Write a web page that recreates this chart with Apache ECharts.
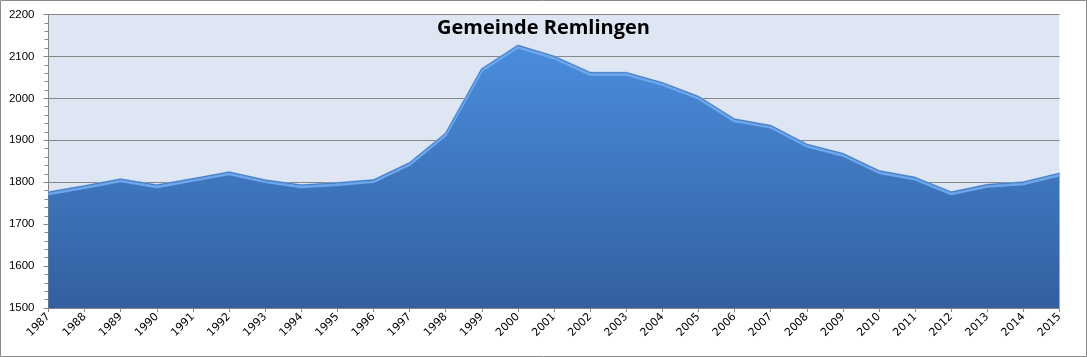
<!DOCTYPE html>
<html>
<head>
<meta charset="utf-8">
<script src="https://cdn.jsdelivr.net/npm/echarts@6/dist/echarts.min.js"></script>
<style>
html,body{margin:0;padding:0;background:#fff;}
#c{width:1087px;height:357px;}
</style>
</head>
<body>
<div id="c"></div>
<script>
const title = 'Gemeinde Remlingen';
const years = ['1987','1988','1989','1990','1991','1992','1993','1994','1995','1996','1997','1998','1999','2000','2001','2002','2003','2004','2005','2006','2007','2008','2009','2010','2011','2012','2013','2014','2015'];
const population = [1776,1791,1807,1793,1808,1824,1805,1793,1798,1805,1846,1916,2070,2126,2100,2061,2061,2037,2004,1950,1935,1890,1868,1827,1811,1776,1794,1800,1821];
const yMin = 1500, yMax = 2200, yStep = 100;

const chart = echarts.init(document.getElementById('c'), null, {renderer:'canvas'});
chart.setOption({
  animation:false,
  backgroundColor:'#ffffff',
  title:{
    text:title, left:'center', top:13,
    textStyle:{fontFamily:'Open Sans', fontWeight:'bold', fontSize:20, color:'#000'}
  },
  graphic:[{
    type:'rect', shape:{x:0.5,y:0.5,width:1086,height:356},
    style:{fill:'none', stroke:'#8a8a8a', lineWidth:1}, silent:true, z:100
  }],
  grid:{left:48.5, right:27.5, top:14.5, bottom:49, show:true, backgroundColor:'#dde6f2', borderWidth:0},
  xAxis:{
    type:'category', data:years, boundaryGap:false,
    axisLine:{lineStyle:{color:'#868686', width:1}},
    axisTick:{show:true, length:4, lineStyle:{color:'#868686'}},
    axisLabel:{rotate:45, margin:7, fontSize:11, color:'#000', fontFamily:'DejaVu Sans', interval:0}
  },
  yAxis:{
    type:'value', min:yMin, max:yMax, interval:yStep,
    axisLine:{show:true, lineStyle:{color:'#868686'}},
    axisTick:{show:true, length:5, lineStyle:{color:'#868686'}},
    minorTick:{show:true, splitNumber:5, length:4, lineStyle:{color:'#868686'}},
    splitLine:{show:true, lineStyle:{color:'#868686', width:1}},
    axisLabel:{margin:14, fontSize:11.5, color:'#000', fontFamily:'Liberation Sans', formatter:function(v){return String(v);}}
  },
  series:[{
    type:'line', data:population, symbol:'none',
    lineStyle:{color:'#78aff0', width:2, shadowColor:'#6ea8ec', shadowOffsetY:2, shadowBlur:0},
    areaStyle:{
      origin:'start',
      color:new echarts.graphic.LinearGradient(0,0,0,1,[
        {offset:0,color:'#4a8ddd'},
        {offset:1,color:'#335f9f'}
      ]),
      opacity:1
    },
    z:2
  },{
    type:'line', data:population, symbol:'none',
    lineStyle:{color:'#4678bb', width:1},
    z:3
  }]
});
</script>
</body>
</html>
